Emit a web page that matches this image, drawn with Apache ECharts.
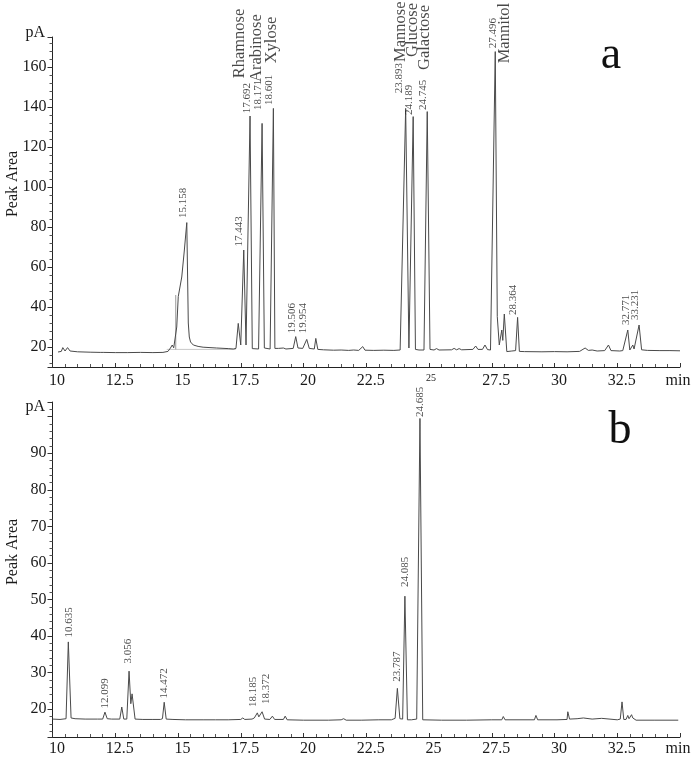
<!DOCTYPE html>
<html>
<head>
<meta charset="utf-8">
<script src="https://cdn.jsdelivr.net/npm/echarts@6/dist/echarts.min.js"></script>
<style>
html,body{margin:0;padding:0;background:#fff;}
#chart{width:696px;height:760px;}
</style>
</head>
<body>
<div id="chart"></div>
<script>
// ---------- Data ----------
// Panel a trace: [retention time (min), signal (pA)]
var traceA = [
[10.22,17.5],[10.35,17.8],[10.41,19.7],[10.5,18.0],[10.6,19.7],[10.7,18.0],[11.0,17.6],[11.5,17.4],
[11.9,17.3],[11.96,17.8],[12.02,17.3],[12.5,17.2],[13.0,17.2],[13.5,17.3],[14.0,17.2],[14.4,17.3],
[14.6,17.8],[14.7,19.5],[14.77,21.0],[14.83,19.6],[14.88,20.0],[14.95,30.0],[15.01,45.2],[15.05,46.0],
[15.15,55.0],[15.25,68.0],[15.35,82.2],[15.41,32.0],[15.45,25.0],[15.5,22.5],[15.61,21.0],[15.8,20.3],
[16.0,19.9],[16.54,19.5],[17.0,19.2],[17.2,19.0],
[17.31,19.3],[17.40,31.8],[17.50,21.0],[17.53,21.0],[17.62,68.5],[17.71,21.0],[17.76,20.2],[17.87,135.5],
[17.96,19.2],[18.21,19.0],[18.35,131.8],[18.44,19.5],[18.67,19.0],[18.80,139.3],[18.86,19.3],[19.0,19.3],
[19.2,19.5],[19.3,19.0],[19.59,19.3],[19.69,25.2],[19.78,19.5],[19.97,19.3],[20.13,23.8],[20.23,19.3],
[20.43,19.0],[20.49,24.3],[20.57,18.8],[20.8,18.6],[21.2,18.4],[21.5,18.5],[21.8,18.3],[22.0,18.5],
[22.2,18.3],[22.36,20.2],[22.45,18.4],[22.8,18.3],[23.2,18.4],[23.6,18.3],[23.85,18.5],
[23.91,18.5],[24.07,139.3],[24.20,19.5],[24.37,135.2],[24.46,18.8],[24.6,18.5],[24.80,18.5],[24.93,137.7],
[25.04,18.8],[25.2,18.5],[25.3,19.2],[25.4,18.5],[25.9,18.6],[26.0,19.3],[26.1,18.6],[26.2,19.2],
[26.3,18.6],[26.75,18.8],[26.86,20.5],[26.95,18.8],[27.13,18.8],[27.23,21.0],[27.33,18.7],[27.45,18.5],
[27.52,18.5],[27.64,167.7],[27.72,35.2],[27.80,21.0],[27.90,28.5],[27.94,23.3],[28.0,36.5],[28.10,17.7],
[28.3,18.0],[28.45,18.2],[28.53,34.8],[28.60,17.8],[28.8,17.7],[29.5,17.6],[30.0,17.7],[30.5,17.6],
[31.0,17.8],[31.22,19.5],[31.35,18.3],[31.5,18.5],[31.7,18.0],[32.0,18.2],[32.15,21.0],[32.25,18.2],
[32.6,18.0],[32.72,18.2],[32.92,28.5],[33.0,18.5],[33.07,19.5],[33.12,21.0],[33.17,19.0],[33.22,20.0],
[33.37,31.0],[33.47,18.6],[33.7,18.3],[34.2,18.2],[34.6,18.2],[35.0,18.1]
];
// Panel a integration baseline and spike (light grey)
var baseA = [[14.55,18.8],[17.3,18.8]];
var spikeA = [[14.91,18.8],[14.91,46.0]];

// Panel b trace
var traceB = [
[10.0,17.3],[10.3,17.2],[10.54,17.4],[10.63,38.4],[10.74,17.6],[10.9,17.4],[11.3,17.3],[11.8,17.3],
[12.0,17.3],[12.09,19.2],[12.18,17.4],[12.35,17.3],[12.4,17.6],[12.45,17.3],[12.68,17.3],[12.76,20.6],
[12.84,17.3],[12.96,17.3],[13.05,30.4],[13.12,21.5],[13.17,24.2],[13.29,17.3],[13.6,17.2],[14.0,17.2],
[14.3,17.2],[14.38,17.4],[14.45,21.9],[14.53,17.3],[14.8,17.2],[15.3,17.1],[15.35,17.5],[15.4,17.1],
[16.0,17.1],[16.5,17.1],[17.0,17.1],[17.5,17.2],[17.58,17.6],[17.66,17.2],[17.95,17.3],[18.04,17.6],
[18.16,19.0],[18.22,17.9],[18.35,19.3],[18.45,17.3],[18.66,17.2],[18.76,18.1],[18.85,17.2],[19.2,17.2],
[19.27,18.1],[19.35,17.1],[20.0,17.0],[21.0,17.0],[21.5,17.1],[21.6,17.4],[21.7,17.0],[22.3,17.0],
[23.0,17.1],[23.5,17.1],[23.65,17.5],[23.74,25.7],[23.84,17.4],[23.95,17.3],[24.04,50.9],[24.14,17.1],
[24.3,17.1],[24.51,17.3],[24.64,99.5],[24.75,17.1],[25.5,17.0],[26.5,17.0],[27.5,17.1],[27.9,17.1],
[27.96,18.0],[28.03,17.1],[29.2,17.1],[29.26,18.3],[29.33,17.1],[30.1,17.1],[30.5,17.2],[30.53,19.3],
[30.6,17.3],[30.9,17.4],[31.15,17.6],[31.5,17.3],[31.88,17.5],[31.95,17.1],[32.5,17.1],[32.62,17.3],
[32.69,22.0],[32.76,17.2],[32.85,17.2],[32.92,18.3],[32.97,17.4],[33.07,18.5],[33.12,17.6],[33.25,17.0],
[34.0,17.0],[34.93,17.0]
];

// Peak retention-time annotations (anchor = start of rotated text, in data units)
var peakTextA = ['15.158','17.443','17.692','18.171','18.601','19.506','19.954','23.893','24.189','24.745','27.496','28.364','32.771','33.231'];
var peakXA    = [15.19, 17.44, 17.74, 18.18, 18.64, 19.53, 19.99, 23.80, 24.22, 24.77, 27.56, 28.36, 32.84, 33.21];
var peakYA    = [84.5, 70.2, 136.8, 138.5, 141.0, 26.8, 26.8, 146.8, 136.0, 138.5, 169.3, 36.0, 31.0, 33.5];

var sugarNames = ['Rhamnose','Arabinose','Xylose','Mannose','Glucose','Galactose','Mannitol'];
var sugarX     = [17.47, 18.14, 18.73, 23.86, 24.35, 24.84, 28.00];
var sugarY     = [154.3, 152.5, 161.8, 162.5, 165.0, 158.5, 161.8];

var peakTextB = ['10.635','12.099','3.056','14.472','18.185','18.372','23.787','24.085','24.685'];
var peakXB    = [10.67, 12.09, 13.02, 14.44, 18.00, 18.51, 23.71, 24.04, 24.64];
var peakYB    = [39.6, 20.2, 32.5, 22.9, 20.6, 21.4, 27.5, 53.4, 99.9];

// Axis texts
var xTickStep = 2.5;
var xEndLabel = 'min';
var yUnit = 'pA';
var yTitle = 'Peak Area';

// ---------- Chart ----------
var FONT = '"Liberation Serif", "DejaVu Serif", serif';
var TXT = '#1a1a1a';
var LINE = '#4a4a4a';

function zip(xs, ys, ts) {
  return xs.map(function (x, i) { return [x, ys[i], ts[i]]; });
}

function xAxisFor(gi, small25) {
  return {
    type: 'value', gridIndex: gi, min: 10, max: 35, interval: xTickStep,
    axisLine: { onZero: false, lineStyle: { color: '#222', width: 1 } },
    axisTick: { show: true, inside: true, length: 4, lineStyle: { color: '#333' } },
    minorTick: { show: true, splitNumber: 5, length: 3, lineStyle: { color: '#555' } },
    splitLine: { show: false },
    axisLabel: {
      fontFamily: FONT, fontSize: 16, color: TXT, margin: gi === 0 ? 6 : 4,
      formatter: function (v) {
        if (Math.abs(v - 35) < 1e-6) return '{m|' + xEndLabel + '}';
        if (small25 && Math.abs(v - 25) < 1e-6) return '{s|25}';
        return '{n|' + v + '}';
      },
      rich: {
        n: { fontFamily: FONT, fontSize: 16, color: TXT, padding: [0, 0, 0, 9] },
        m: { fontFamily: FONT, fontSize: 16, color: TXT, padding: [0, 4, 0, 0] },
        s: { fontFamily: FONT, fontSize: 10, color: TXT, padding: [0, 0, 3, 4] }
      }
    }
  };
}

function yAxisFor(gi, mn, mx, split, step, maxLabel) {
  return {
    type: 'value', gridIndex: gi, min: mn, max: mx, splitNumber: split,
    axisLine: { show: true, lineStyle: { color: '#222', width: 1 } },
    axisTick: { show: true, inside: false, length: 5, lineStyle: { color: '#333' } },
    minorTick: { show: true, splitNumber: 5, length: 3, lineStyle: { color: '#555' } },
    splitLine: { show: false },
    axisLabel: {
      fontFamily: FONT, fontSize: 16, color: TXT, margin: 6,
      formatter: function (v) {
        var r = Math.abs(v / step - Math.round(v / step));
        return (r < 1e-6 && v <= maxLabel + 1e-6) ? String(Math.round(v)) : '';
      }
    }
  };
}

function labelSeries(xi, yi, data, size) {
  return {
    type: 'scatter', xAxisIndex: xi, yAxisIndex: yi, data: data,
    symbolSize: 0.1, itemStyle: { color: 'transparent' }, silent: true, z: 5,
    label: {
      show: true, position: 'top', distance: 0, rotate: 90,
      align: 'left', verticalAlign: 'middle',
      fontFamily: FONT, fontSize: size, color: TXT,
      formatter: function (p) { return p.value[2]; }
    }
  };
}

function vText(txt, x, y) {
  return { type: 'text', x: x, y: y, rotation: Math.PI / 2,
    style: { text: txt, font: '16px ' + FONT, fill: TXT, align: 'center', verticalAlign: 'middle' } };
}

var chart = echarts.init(document.getElementById('chart'), null, { renderer: 'canvas' });
chart.setOption({
  animation: false,
  backgroundColor: '#fff',
  grid: [
    { left: 52.5, right: 16, top: 37, height: 330, outerBoundsMode: 'none', containLabel: false },
    { left: 52.5, right: 16, top: 402, height: 335, outerBoundsMode: 'none', containLabel: false }
  ],
  xAxis: [xAxisFor(0, true), xAxisFor(1, false)],
  yAxis: [yAxisFor(0, 10, 175, 8, 20, 160), yAxisFor(1, 12.4, 104, 9, 10, 90)],
  graphic: [
    { type: 'text', x: 45, y: 33, style: { text: yUnit, font: '16px ' + FONT, fill: TXT, align: 'right', verticalAlign: 'middle' } },
    { type: 'text', x: 45, y: 407, style: { text: yUnit, font: '16px ' + FONT, fill: TXT, align: 'right', verticalAlign: 'middle' } },
    vText(yTitle, 13, 184),
    vText(yTitle, 13, 552),
    { type: 'text', x: 611, y: 56, style: { text: 'a', font: '46px ' + FONT, fill: '#111', align: 'center', verticalAlign: 'middle' } },
    { type: 'text', x: 620, y: 431, style: { text: 'b', font: '46px ' + FONT, fill: '#111', align: 'center', verticalAlign: 'middle' } }
  ],
  series: [
    { type: 'line', xAxisIndex: 0, yAxisIndex: 0, data: baseA, symbol: 'none', silent: true,
      lineStyle: { color: '#c8c8c8', width: 1 } },
    { type: 'line', xAxisIndex: 0, yAxisIndex: 0, data: spikeA, symbol: 'none', silent: true,
      lineStyle: { color: '#9a9a9a', width: 1 } },
    { type: 'line', xAxisIndex: 0, yAxisIndex: 0, data: traceA, symbol: 'none', silent: true,
      lineStyle: { color: LINE, width: 1 } },
    { type: 'line', xAxisIndex: 1, yAxisIndex: 1, data: traceB, symbol: 'none', silent: true,
      lineStyle: { color: LINE, width: 1 } },
    labelSeries(0, 0, zip(peakXA, peakYA, peakTextA), 11),
    labelSeries(0, 0, zip(sugarX, sugarY, sugarNames), 16.5),
    labelSeries(1, 1, zip(peakXB, peakYB, peakTextB), 11)
  ]
});
</script>
</body>
</html>
